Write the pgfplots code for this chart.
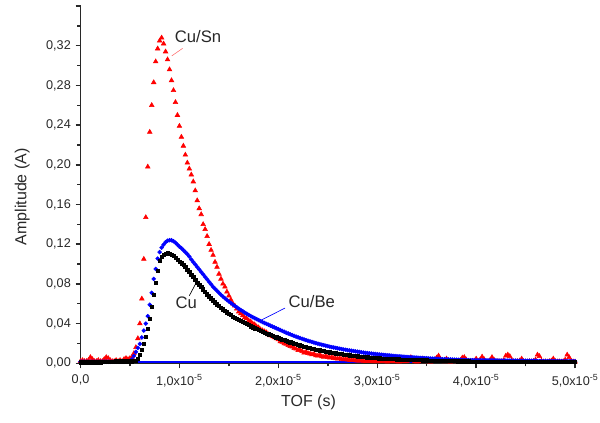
\documentclass[border=0pt]{standalone}
\usepackage{fontspec}
\setmainfont{Liberation Sans}
\usepackage{pgfplots}
\pgfplotsset{compat=1.18}
\usepackage{pgfplotstable}

\pgfplotstableread{
x cusn cube cu
0.00 0.002 0.0015 0.0010
0.02 0.003 0.0015 0.0010
0.04 0.002 0.0015 0.0012
0.06 0.002 0.0015 0.0010
0.08 0.003 0.0015 0.0010
0.10 0.006 0.0015 0.0012
0.12 0.004 0.0015 0.0010
0.14 0.002 0.0015 0.0010
0.16 0.002 0.0015 0.0012
0.18 0.003 0.0015 0.0010
0.20 0.002 0.0015 0.0010
0.22 0.002 0.0015 0.0012
0.24 0.004 0.0015 0.0015
0.26 0.006 0.0015 0.0012
0.28 0.005 0.0015 0.0015
0.30 0.003 0.0015 0.0018
0.32 0.002 0.0015 0.0015
0.34 0.002 0.0015 0.0018
0.36 0.003 0.0015 0.0020
0.38 0.002 0.0015 0.0018
0.40 0.003 0.0015 0.0020
0.42 0.002 0.0015 0.0022
0.44 0.004 0.0015 0.0020
0.46 0.005 0.0016 0.0022
0.48 0.004 0.0018 0.0020
0.50 0.005 0.0022 0.0020
0.52 0.006 0.0040 0.0020
0.54 0.010 0.0075 0.0022
0.56 0.016 0.0115 0.0025
0.58 0.025 0.0155 0.0045
0.60 0.040 0.0195 0.0085
0.62 0.065 0.0260 0.0135
0.64 0.105 0.0330 0.0195
0.66 0.147 0.0400 0.0265
0.68 0.198 0.0475 0.0350
0.70 0.233 0.0590 0.0450
0.72 0.260 0.0710 0.0570
0.74 0.283 0.0850 0.0690
0.76 0.304 0.0950 0.0810
0.78 0.317 0.1055 0.0930
0.80 0.325 0.1120 0.1030
0.82 0.328 0.1165 0.1070
0.84 0.322 0.1195 0.1095
0.86 0.314 0.1220 0.1105
0.88 0.306 0.1235 0.1110
0.90 0.296 0.1240 0.1105
0.92 0.285 0.1240 0.1095
0.94 0.275 0.1230 0.1080
0.96 0.263 0.1215 0.1062
0.98 0.250 0.1195 0.1043
1.00 0.239 0.1175 0.1025
1.02 0.228 0.1160 0.1008
1.04 0.219 0.1140 0.0990
1.06 0.210 0.1120 0.0970
1.08 0.202 0.1100 0.0945
1.10 0.196 0.1075 0.0920
1.12 0.190 0.1045 0.0895
1.14 0.183 0.1020 0.0870
1.16 0.174 0.0995 0.0840
1.18 0.164 0.0970 0.0815
1.20 0.156 0.0945 0.0790
1.22 0.150 0.0920 0.0770
1.24 0.140 0.0895 0.0745
1.26 0.135 0.0870 0.0720
1.28 0.128 0.0845 0.0695
1.30 0.120 0.0820 0.0675
1.32 0.114 0.0795 0.0655
1.34 0.109 0.0770 0.0635
1.36 0.102 0.0750 0.0615
1.38 0.097 0.0730 0.0595
1.40 0.090 0.0710 0.0578
1.42 0.085 0.0690 0.0560
1.44 0.080 0.0672 0.0545
1.46 0.077 0.0655 0.0528
1.48 0.072 0.0638 0.0513
1.50 0.068 0.0622 0.0498
1.52 0.064 0.0607 0.0485
1.54 0.060 0.0592 0.0472
1.56 0.058 0.0578 0.0460
1.58 0.055 0.0564 0.0450
1.60 0.052 0.0550 0.0440
1.62 0.050 0.0537 0.0428
1.64 0.048 0.0524 0.0417
1.66 0.046 0.0511 0.0405
1.68 0.045 0.0499 0.0394
1.70 0.043 0.0487 0.0384
1.72 0.042 0.0476 0.0373
1.74 0.040 0.0465 0.0363
1.76 0.039 0.0455 0.0353
1.78 0.037 0.0445 0.0344
1.80 0.036 0.0435 0.0335
1.82 0.034 0.0425 0.0326
1.84 0.033 0.0415 0.0317
1.86 0.032 0.0406 0.0308
1.88 0.031 0.0397 0.0300
1.90 0.029 0.0388 0.0292
1.92 0.028 0.0379 0.0284
1.94 0.027 0.0370 0.0276
1.96 0.026 0.0361 0.0269
1.98 0.025 0.0352 0.0262
2.00 0.024 0.0344 0.0255
2.02 0.022 0.0335 0.0248
2.04 0.0215 0.0326 0.0240
2.06 0.020 0.0317 0.0233
2.08 0.0195 0.0308 0.0226
2.10 0.018 0.0300 0.0219
2.12 0.017 0.0292 0.0212
2.14 0.0165 0.0284 0.0206
2.16 0.015 0.0276 0.0199
2.18 0.0145 0.0268 0.0193
2.20 0.013 0.0261 0.0187
2.22 0.0135 0.0254 0.0181
2.24 0.012 0.0247 0.0175
2.26 0.0105 0.0240 0.0170
2.28 0.0115 0.0233 0.0164
2.30 0.010 0.0227 0.0159
2.32 0.0095 0.0221 0.0154
2.34 0.0088 0.0215 0.0149
2.36 0.0092 0.0209 0.0144
2.38 0.0078 0.0203 0.0139
2.40 0.0075 0.0197 0.0135
2.42 0.0082 0.0192 0.0131
2.44 0.0068 0.0187 0.0127
2.46 0.0064 0.0182 0.0123
2.48 0.0070 0.0177 0.0119
2.50 0.0060 0.0172 0.0115
2.52 0.0055 0.0167 0.0111
2.54 0.0060 0.0163 0.0108
2.56 0.0050 0.0159 0.0105
2.58 0.0047 0.0155 0.0101
2.60 0.0044 0.0151 0.0098
2.62 0.0050 0.0147 0.0095
2.64 0.0040 0.0143 0.0092
2.66 0.0037 0.0139 0.0089
2.68 0.0042 0.0136 0.0086
2.70 0.0034 0.0132 0.0083
2.72 0.0032 0.0129 0.0081
2.74 0.0030 0.0126 0.0078
2.76 0.0034 0.0123 0.0076
2.78 0.0027 0.0120 0.0073
2.80 0.0025 0.0117 0.0071
2.82 0.0024 0.0114 0.0069
2.84 0.0028 0.0111 0.0067
2.86 0.0022 0.0108 0.0065
2.88 0.0021 0.0105 0.0063
2.90 0.0020 0.0103 0.0061
2.92 0.0019 0.0100 0.0059
2.94 0.0022 0.0098 0.0057
2.96 0.0018 0.0095 0.0055
2.98 0.0020 0.0093 0.0054
3.00 0.0017 0.0091 0.0052
3.02 0.0021 0.0089 0.0051
3.04 0.0018 0.0087 0.0049
3.06 0.0040 0.0085 0.0048
3.08 0.0020 0.0083 0.0047
3.10 0.0016 0.0081 0.0046
3.12 0.0019 0.0079 0.0045
3.14 0.0022 0.0077 0.0044
3.16 0.0017 0.0075 0.0043
3.18 0.0020 0.0073 0.0042
3.20 0.0018 0.0071 0.0041
3.22 0.0016 0.0070 0.0040
3.24 0.0021 0.0068 0.0039
3.26 0.0019 0.0067 0.0038
3.28 0.0017 0.0065 0.0037
3.30 0.0020 0.0064 0.0036
3.32 0.0035 0.0062 0.0036
3.34 0.0060 0.0061 0.0035
3.36 0.0030 0.0059 0.0034
3.38 0.0018 0.0058 0.0034
3.40 0.0016 0.0057 0.0033
3.42 0.0020 0.0055 0.0032
3.44 0.0018 0.0054 0.0032
3.46 0.0045 0.0053 0.0031
3.48 0.0020 0.0052 0.0030
3.50 0.0017 0.0051 0.0030
3.52 0.0019 0.0049 0.0029
3.54 0.0016 0.0048 0.0029
3.56 0.0022 0.0047 0.0028
3.58 0.0030 0.0046 0.0028
3.60 0.0055 0.0045 0.0027
3.62 0.0075 0.0044 0.0026
3.64 0.0040 0.0043 0.0026
3.66 0.0020 0.0042 0.0025
3.68 0.0018 0.0041 0.0025
3.70 0.0045 0.0040 0.0024
3.72 0.0020 0.0039 0.0024
3.74 0.0016 0.0039 0.0023
3.76 0.0019 0.0038 0.0023
3.78 0.0022 0.0037 0.0022
3.80 0.0018 0.0036 0.0022
3.82 0.0020 0.0035 0.0021
3.84 0.0030 0.0035 0.0021
3.86 0.0055 0.0034 0.0021
3.88 0.0060 0.0033 0.0020
3.90 0.0035 0.0033 0.0020
3.92 0.0018 0.0032 0.0020
3.94 0.0016 0.0031 0.0019
3.96 0.0020 0.0031 0.0019
3.98 0.0025 0.0030 0.0019
4.00 0.0045 0.0030 0.0019
4.02 0.0020 0.0029 0.0018
4.04 0.0035 0.0029 0.0018
4.06 0.0065 0.0029 0.0018
4.08 0.0040 0.0029 0.0018
4.10 0.0018 0.0029 0.0018
4.12 0.0016 0.0029 0.0017
4.14 0.0030 0.0029 0.0017
4.16 0.0060 0.0029 0.0017
4.18 0.0035 0.0029 0.0017
4.20 0.0018 0.0029 0.0017
4.22 0.0020 0.0027 0.0016
4.24 0.0016 0.0027 0.0016
4.26 0.0019 0.0027 0.0016
4.28 0.0030 0.0027 0.0016
4.30 0.0075 0.0027 0.0016
4.32 0.0085 0.0027 0.0016
4.34 0.0070 0.0027 0.0015
4.36 0.0030 0.0027 0.0015
4.38 0.0018 0.0027 0.0015
4.40 0.0016 0.0027 0.0015
4.42 0.0020 0.0025 0.0015
4.44 0.0025 0.0025 0.0015
4.46 0.0045 0.0025 0.0014
4.48 0.0020 0.0025 0.0014
4.50 0.0017 0.0025 0.0014
4.52 0.0015 0.0025 0.0014
4.54 0.0019 0.0025 0.0014
4.56 0.0016 0.0025 0.0014
4.58 0.0020 0.0025 0.0014
4.60 0.0035 0.0025 0.0013
4.62 0.0085 0.0022 0.0013
4.64 0.0070 0.0022 0.0013
4.66 0.0025 0.0022 0.0013
4.68 0.0016 0.0022 0.0013
4.70 0.0018 0.0022 0.0013
4.72 0.0015 0.0022 0.0013
4.74 0.0020 0.0022 0.0013
4.76 0.0025 0.0022 0.0012
4.78 0.0045 0.0022 0.0012
4.80 0.0020 0.0022 0.0012
4.82 0.0016 0.0020 0.0012
4.84 0.0018 0.0020 0.0012
4.86 0.0015 0.0020 0.0012
4.88 0.0019 0.0020 0.0012
4.90 0.0035 0.0020 0.0012
4.92 0.0085 0.0020 0.0012
4.94 0.0060 0.0020 0.0012
4.96 0.0020 0.0020 0.0012
4.98 0.0016 0.0020 0.0012
5.00 0.0015 0.0020 0.0012
}\data

\definecolor{txt}{RGB}{40,40,40}

\begin{document}
\begin{tikzpicture}
\begin{axis}[
  scale only axis, width=371pt, height=268pt,
  xmin=0, xmax=5, ymin=0, ymax=0.36,
  axis lines*=left,
  axis line style={line width=1.1pt, txt},
  tick align=outside,
  major tick length=3.75pt, minor tick length=2.4pt,
  every tick/.style={line width=1.1pt, txt},
  xtick={0,1,2,3,4,5},
  minor xtick={0.5,1.5,2.5,3.5,4.5},
  xticklabels={{0,0},{1,0x10\textsuperscript{-5}},{2,0x10\textsuperscript{-5}},{3,0x10\textsuperscript{-5}},{4,0x10\textsuperscript{-5}},{5,0x10\textsuperscript{-5}}},
  ytick={0,0.04,0.08,0.12,0.16,0.20,0.24,0.28,0.32,0.36},
  minor ytick={0.02,0.06,0.10,0.14,0.18,0.22,0.26,0.30,0.34},
  yticklabels={{0,00},{0,04},{0,08},{0,12},{0,16},{0,20},{0,24},{0,28},{0,32},{}},
  tick label style={font=\fontsize{9.5}{11}\selectfont, text=txt},
  xticklabel style={yshift=-1pt},
  xlabel={TOF (s)}, ylabel={Amplitude (A)},
  label style={font=\fontsize{12}{14}\selectfont, text=txt},
  xlabel style={at={(axis description cs:0.461,-0.11)}, anchor=center},
  ylabel style={at={(axis description cs:-0.118,0.466)}, anchor=center},
  clip=false,
]
\addplot[only marks, mark=triangle*, mark size=2.0pt, red] table[x=x,y=cusn]{\data};
\addplot[only marks, mark=*, mark size=1.45pt, blue] table[x=x,y=cube]{\data};
\addplot[only marks, mark=square*, mark size=1.2pt, black] table[x=x,y=cu]{\data};
\addplot[blue, line width=1.2pt, no marks] coordinates {(0,0.0012) (5,0.0012)};

\node[font=\fontsize{12.5}{14}\selectfont, text=txt] at (axis cs:1.188,0.329) {Cu/Sn};
\draw[red!60, line width=0.4pt] (axis cs:0.922,0.3097) -- (axis cs:1.033,0.3174);
\node[font=\fontsize{12.5}{14}\selectfont, text=txt] at (axis cs:2.338,0.0622) {Cu/Be};
\draw[blue, line width=0.5pt] (axis cs:1.832,0.0438) -- (axis cs:2.068,0.0556);
\node[font=\fontsize{12.5}{14}\selectfont, text=txt] at (axis cs:1.07,0.0612) {Cu};
\draw[black, line width=0.5pt] (axis cs:1.10,0.068) -- (axis cs:1.158,0.079);
\end{axis}
\pgfresetboundingbox
\path (-60.4pt,-44.6pt) rectangle (389.7pt,272.5pt);
\end{tikzpicture}
\end{document}
